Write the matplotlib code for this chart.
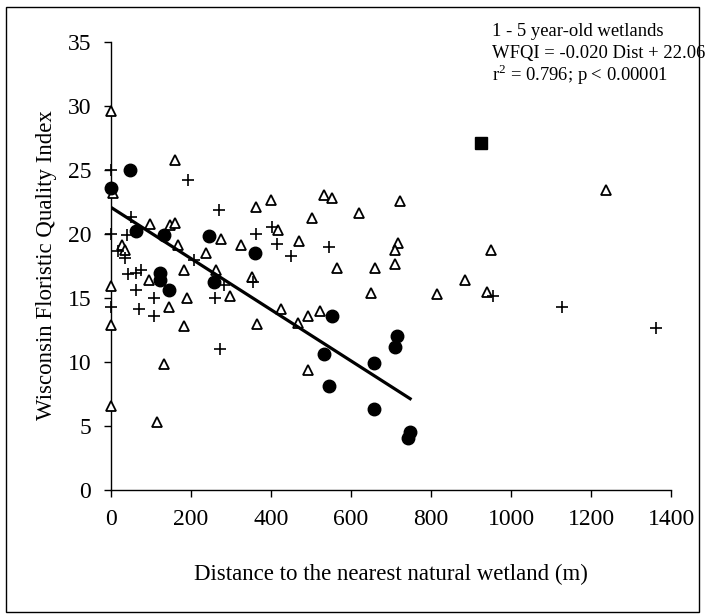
import numpy as np
import matplotlib
matplotlib.use("Agg")
import matplotlib.pyplot as plt
from matplotlib.patches import Rectangle

plt.rcParams['font.family'] = ['Liberation Serif', 'DejaVu Serif']
plt.rcParams['mathtext.fontset'] = 'custom'
plt.rcParams['mathtext.rm'] = 'Liberation Serif'

# 1 - 5 year-old wetlands (filled circles)
young_x = [0, 47, 64, 134, 246, 361, 122, 124, 259, 145, 553, 716, 711, 532, 658, 546, 658, 742, 748]
young_y = [23.55, 25.0, 20.2, 19.9, 19.77, 18.5, 16.9, 16.4, 16.2, 15.6, 13.58, 12.0, 11.11, 10.6, 9.86, 8.1, 6.33, 4.0, 4.5]

# open triangles
tri_x = [0, 161, 6, 97, 147, 161, 364, 401, 418, 275, 470, 167, 29, 37, 238, 184, 264, 95, 352,
         0, 190, 298, 145, 0, 182, 366, 425, 468, 132, 0, 115, 325,
         532, 553, 723, 502, 620, 717, 710, 710, 565, 659, 651, 814, 493, 524, 493,
         885, 940, 951, 1236]
tri_y = [29.55, 25.77, 23.2, 20.76, 20.7, 20.8, 22.1, 22.6, 20.3, 19.6, 19.43, 19.1, 19.1, 18.7, 18.5, 17.16, 17.16, 16.4, 16.6,
         15.93, 15.0, 15.1, 14.24, 12.85, 12.78, 12.9, 14.08, 12.99, 9.8, 6.5, 5.27, 19.1,
         23.03, 22.8, 22.58, 21.2, 21.64, 19.25, 18.7, 17.6, 17.27, 17.27, 15.38, 15.28, 13.58, 13.97, 9.33,
         16.4, 15.4, 18.7, 23.4]

# plus markers
plus_x = [0, 0, 192, 51, 271, 404, 362, 42, 416, 18, 37, 450, 209, 76, 62, 43, 356, 284, 62,
          107, 261, 0, 70, 109, 273, 545, 955, 1127, 1363]
plus_y = [25.0, 20.0, 24.2, 21.33, 21.85, 20.5, 20.0, 19.9, 19.2, 18.6, 18.1, 18.28, 17.9, 17.16, 16.9, 16.85, 16.2, 16.0, 15.6,
          15.0, 15.0, 14.24, 14.08, 13.56, 10.96, 18.98, 15.1, 14.3, 12.6]

# filled square
sq_x = [925]
sq_y = [27.1]

# regression for 1 - 5 year-old wetlands
slope = -0.020
intercept = 22.06
fit_x = np.array([0, 748])

fig = plt.figure(figsize=(7.05, 6.14), dpi=100)
ax = fig.add_axes([0.157, 0.2026, 0.795, 0.7298])

ax.plot(tri_x, tri_y, linestyle='none', marker='^', markersize=6.5, markerfacecolor='white',
        markeredgecolor='black', markeredgewidth=1.3, clip_on=False, zorder=3)
ax.plot(plus_x, plus_y, linestyle='none', marker='+', markersize=8, color='black',
        markeredgewidth=1.2, clip_on=False, zorder=3)
ax.plot(young_x, young_y, linestyle='none', marker='o', markersize=9, color='black', clip_on=False, zorder=4)
ax.plot(sq_x, sq_y, linestyle='none', marker='s', markersize=8, color='black', zorder=4)
ax.plot(fit_x, intercept + slope * fit_x, color='black', linewidth=2.3, zorder=5)

ax.set_xlim(0, 1400)
ax.set_ylim(0, 35)
ax.set_xticks(range(0, 1401, 200))
ax.set_yticks(range(0, 36, 5))
ax.spines['top'].set_visible(False)
ax.spines['right'].set_visible(False)
ax.spines['left'].set_linewidth(1.0)
ax.spines['bottom'].set_linewidth(1.0)
ax.tick_params(axis='both', direction='out', length=5, width=1.0, labelsize=17, pad=9)

ax.set_xlabel('Distance to the nearest natural wetland (m)', fontsize=16.5, va='center')
ax.set_ylabel('Wisconsin Floristic Quality Index', fontsize=16.5, va='center')
ax.xaxis.set_label_coords(0.5, -0.19)
ax.yaxis.set_label_coords(-0.114, 0.5)

fig.text(0.698, 0.948, '1 - 5 year-old wetlands', fontsize=13.4, va='center')
fig.text(0.698, 0.913, 'WFQI = -0.020 Dist + 22.06', fontsize=13.4, va='center')
fig.text(0.698, 0.878, 'r$^2$ = 0.796; p < 0.00001', fontsize=13.4, va='center')

# border round the whole chart
fig.patches.append(Rectangle((0.009, 0.004), 0.982, 0.985, transform=fig.transFigure,
                             fill=False, edgecolor='black', linewidth=1.0))

fig.savefig('out.png', dpi=100)
